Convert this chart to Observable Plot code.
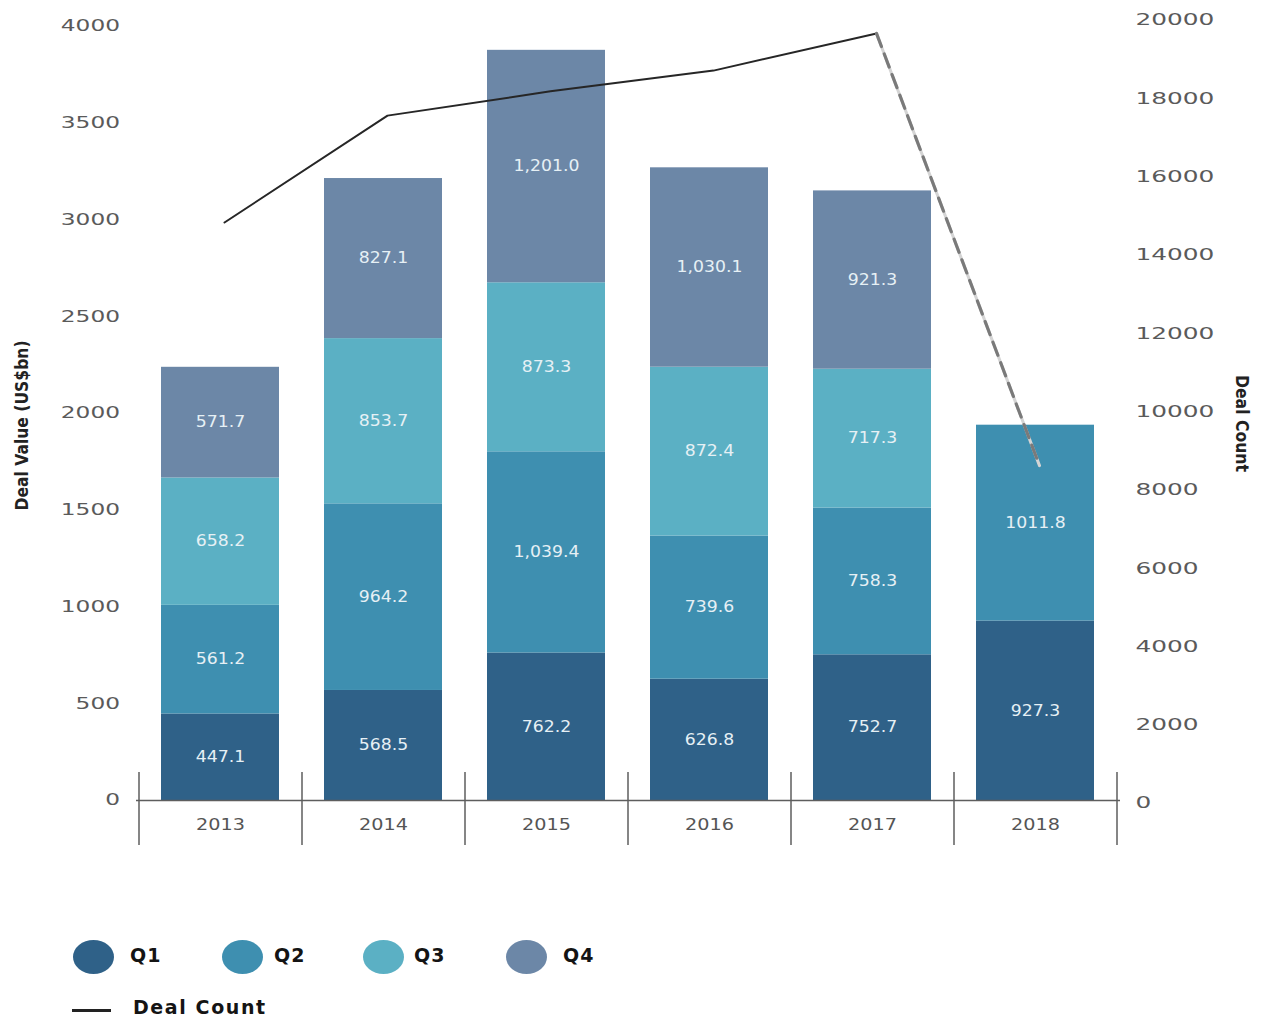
<!DOCTYPE html>
<html><head><meta charset="utf-8">
<script src="https://cdn.jsdelivr.net/npm/d3@7"></script>
<script src="https://cdn.jsdelivr.net/npm/@observablehq/plot@0.6"></script>
<style>
body{margin:0;background:#fff;}
#wrap{position:relative;width:1261px;height:1019px;overflow:hidden;background:#fff;}
#chart svg{display:block;}
.sw{position:absolute;border-radius:50%;}
.lt{position:absolute;font-family:"DejaVu Sans",sans-serif;font-weight:bold;font-size:19px;color:#141414;line-height:19px;white-space:nowrap;}
</style></head><body>
<div id="wrap"><div id="chart"></div><div id="legend"></div></div>
<script>
// ---- data ----
const years = ["2013","2014","2015","2016","2017","2018"];
const quarters = ["Q1","Q2","Q3","Q4"];
const q1Values = [447.1, 568.5, 762.2, 626.8, 752.7, 927.3];
const q2Values = [561.2, 964.2, 1039.4, 739.6, 758.3, 1011.8];
const q3Values = [658.2, 853.7, 873.3, 872.4, 717.3, null];
const q4Values = [571.7, 827.1, 1201.0, 1030.1, 921.3, null];
const q1Labels = ["447.1","568.5","762.2","626.8","752.7","927.3"];
const q2Labels = ["561.2","964.2","1,039.4","739.6","758.3","1011.8"];
const q3Labels = ["658.2","853.7","873.3","872.4","717.3",null];
const q4Labels = ["571.7","827.1","1,201.0","1,030.1","921.3",null];
const dealCount = [14840, 17570, 18190, 18720, 19670, 8630];
const valueTicks = [0, 500, 1000, 1500, 2000, 2500, 3000, 3500, 4000];
const countTicks = [0, 2000, 4000, 6000, 8000, 10000, 12000, 14000, 16000, 18000, 20000];
const quarterColors = ["#2f6188", "#3e8fb0", "#5bb0c4", "#6c87a7"];

// ---- layout ----
const W = 1261, H = 900, ML = 138.5, MR = 144.5, MT = 20, MB = 97;
const yDomain = [-15.5, 4030];
const toV = d3.scaleLinear([0, 20000], yDomain); // deal count -> left axis units
const step = (W - ML - MR) / years.length;

const valuesByQ = [q1Values, q2Values, q3Values, q4Values];
const labelsByQ = [q1Labels, q2Labels, q3Labels, q4Labels];
const rows = [];
quarters.forEach((q, qi) => years.forEach((year, i) => {
  if (valuesByQ[qi][i] != null) rows.push({year, quarter: q, value: valuesByQ[qi][i], label: labelsByQ[qi][i]});
}));
const countRows = years.map((year, i) => ({year, count: dealCount[i]}));

const font = "DejaVu Sans, sans-serif";
const tag = name => () => name;
const plot = Plot.plot({
  width: W, height: H, marginLeft: ML, marginRight: MR, marginTop: MT, marginBottom: MB,
  style: {background: "#fff", overflow: "visible"},
  x: {type: "band", domain: years, paddingInner: 0.275, paddingOuter: 0.1375, axis: null},
  y: {domain: yDomain, axis: null},
  color: {domain: quarters, range: quarterColors},
  marks: [
    Plot.barY(rows, {x: "year", y: "value", fill: "quarter"}),
    Plot.text(rows, Plot.stackY({x: "year", y: "value", text: "label", fill: "#e6f0f5", fontSize: 15, fontFamily: font, ariaLabel: tag("bar-labels")})),
    Plot.ruleY([0], {stroke: "#5e5e5e", strokeWidth: 1.5, insetLeft: -2.5, insetRight: -3.5}),
    Plot.ruleX(years, {x: d => d, dx: -step / 2, stroke: "#5e5e5e", strokeWidth: 1.5, insetTop: 752, insetBottom: -42}),
    Plot.ruleX([years[years.length - 1]], {x: d => d, dx: step / 2, stroke: "#5e5e5e", strokeWidth: 1.5, insetTop: 752, insetBottom: -42}),
    Plot.line(countRows.slice(0, 5), {x: "year", y: d => toV(d.count), stroke: "#262626", strokeWidth: 2, dx: 4}),
    Plot.line(countRows.slice(4), {x: "year", y: d => toV(d.count), stroke: "#d4d4d4", strokeWidth: 3, dx: 4}),
    Plot.line(countRows.slice(4), {x: "year", y: d => toV(d.count), stroke: "#7a7a7a", strokeWidth: 3.2, strokeDasharray: "14,8", dx: 4}),
    Plot.text(years, {x: d => d, frameAnchor: "bottom", lineAnchor: "middle", dy: 21, fontSize: 16, fill: "#555", fontFamily: font, ariaLabel: tag("years")}),
    Plot.text(valueTicks, {y: d => d, text: d => String(d), frameAnchor: "left", textAnchor: "end", lineAnchor: "middle", dx: -19, fontSize: 15.5, fill: "#5a5a5a", fontFamily: font, ariaLabel: tag("left-ticks")}),
    Plot.text(countTicks, {y: d => toV(d), text: d => String(d), frameAnchor: "right", textAnchor: "start", lineAnchor: "middle", dx: 18.5, fontSize: 15.5, fill: "#5a5a5a", fontFamily: font, ariaLabel: tag("right-ticks")}),
    Plot.text(["Deal Value (US$bn)"], {frameAnchor: "left", textAnchor: "middle", lineAnchor: "middle", dx: 22 - ML, dy: 13.5, rotate: -90, fontSize: 18, fontWeight: "bold", fill: "#222", fontFamily: "Liberation Sans Narrow, DejaVu Sans Condensed, sans-serif", ariaLabel: tag("title-left")}),
    Plot.text(["Deal Count"], {frameAnchor: "right", textAnchor: "middle", lineAnchor: "middle", dx: 1241 - (W - MR), dy: 11.5, rotate: 90, fontSize: 18, fontWeight: "bold", fill: "#222", fontFamily: "Liberation Sans Narrow, DejaVu Sans Condensed, sans-serif", ariaLabel: tag("title-right")})
  ]
});
const chart = document.getElementById("chart");
chart.appendChild(plot);

function stretch(label, f, target) {
  chart.querySelectorAll(`text[aria-label="${label}"], g[aria-label="${label}"] text`).forEach(t => {
    const L = t.getComputedTextLength();
    t.setAttribute("textLength", target != null ? target : L * f);
    t.setAttribute("lengthAdjust", "spacingAndGlyphs");
  });
}
stretch("left-ticks", 1.5);
stretch("right-ticks", 1.6);
stretch("years", 1.2);
stretch("bar-labels", 1.15);
stretch("title-left", null, 170);
stretch("title-right", null, 97);

// ---- legend ----
const legend = document.getElementById("legend");
const swLeft = [73, 222, 363, 506];
const txLeft = [130, 274, 414, 563];
quarters.forEach((q, i) => {
  const s = document.createElement("div");
  s.className = "sw";
  Object.assign(s.style, {left: swLeft[i] + "px", top: "940px", width: "41px", height: "34px", background: quarterColors[i]});
  legend.appendChild(s);
  const t = document.createElement("div");
  t.className = "lt";
  t.textContent = q;
  Object.assign(t.style, {left: txLeft[i] + "px", top: "946px", letterSpacing: "1px"});
  legend.appendChild(t);
});
const ln = document.createElement("div");
Object.assign(ln.style, {position: "absolute", left: "72px", top: "1009px", width: "39px", height: "2.5px", background: "#222"});
legend.appendChild(ln);
const lt = document.createElement("div");
lt.className = "lt";
lt.textContent = "Deal Count";
Object.assign(lt.style, {left: "133px", top: "998px", letterSpacing: "1.6px"});
legend.appendChild(lt);
</script>
</body></html>
